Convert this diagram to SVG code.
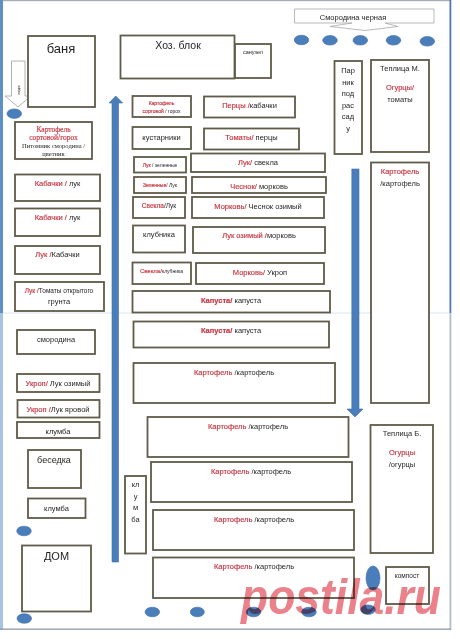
<svg xmlns="http://www.w3.org/2000/svg" width="460" height="639" viewBox="0 0 460 639">
<style>
.b{fill:#fff;stroke:#5f5b49;stroke-width:1.8}
.e{fill:#4a7ebb;stroke:#3f6ea6;stroke-width:.6}
.a{fill:#4a7ebb;stroke:#3f6ea6;stroke-width:.6}
text{font-family:"Liberation Sans",Arial,sans-serif;font-size:7.5px;fill:#1f1f1f;text-anchor:middle}
.r{fill:#c8343f;stroke:#c8343f;stroke-width:.15}
.s{font-family:"Liberation Serif","Times New Roman",serif}
.w{font-size:50px;font-weight:bold;font-style:italic;fill:#e2525e;fill-opacity:.72;mix-blend-mode:multiply}
</style>
<defs><filter id="soft" x="-2%" y="-2%" width="104%" height="104%"><feGaussianBlur stdDeviation="0.3"/></filter></defs>
<rect width="460" height="639" fill="#fff"/>
<g filter="url(#soft)">
<g id="page">
<rect x="2" y="0" width="449" height="1.2" fill="#a8adb2"/>
<rect x="0" y="0" width="3" height="313" fill="#5f8fc6"/>
<rect x="0" y="313" width="3" height="317" fill="#a9c4e2"/>
<rect x="449.500" y="0" width="1.800" height="313" fill="#4f78b5"/>
<rect x="449.500" y="313" width="1.800" height="317" fill="#b4bec8"/>
<rect x="0" y="628.500" width="451" height="1.300" fill="#8f9ba8"/>
<rect x="3" y="312.500" width="446" height="1" fill="#dce6ee"/>
</g>
<g id="connectors">
<path class="a" d="M112 562V103H109L115.700 96L122.700 103H118.500V562Z"/>
<path class="a" d="M351.800 169H359V409H363L355 417L347 409H351.800Z"/>
<path d="M11.500 61H25V96H31L18 107L5 96H11.500Z" fill="#fff" stroke="#a0a0a0" stroke-width=".8"/>
<text transform="translate(19.500 90) rotate(-90)" style="font-size:4px">вода</text>
</g>
<g id="banya"><rect class="b" x="28" y="36" width="67" height="71"/><text x="61" y="53" style="font-size:13px">баня</text></g>
<g id="hoz"><rect class="b" x="120.500" y="35.500" width="114" height="43"/><text x="178" y="49" style="font-size:10.500px">Хоз. блок</text></g>
<g id="sanuzel"><rect class="b" x="235" y="44" width="36" height="34"/><text x="253" y="54" style="font-size:5.500px">санузел</text></g>
<g id="smorodina-ch"><path d="M294.500 9H434V23H385L398 26.500L365 30.500L330 26.500L352 23H294.500Z" fill="#fff" stroke="#a8a8a8" stroke-width=".8"/><text x="353" y="19.500">Смородина черная</text></g>
<g id="parnik"><rect class="b" x="334.500" y="61" width="27.500" height="93"/><text x="348" y="73">Пар</text><text x="348" y="85">ник</text><text x="348" y="96">под</text><text x="348" y="108">рас</text><text x="348" y="119">сад</text><text x="348" y="131">у</text></g>
<g id="teplica-m"><rect class="b" x="371" y="60" width="58" height="92"/><text x="400" y="71">Теплица М.</text><text x="400" y="90"><tspan class="r">Огурцы/</tspan></text><text x="400" y="102">томаты</text></g>
<g id="kart-tall"><rect class="b" x="371" y="162.500" width="58" height="240.500"/><text x="400" y="174"><tspan class="r">Картофель</tspan></text><text x="400" y="186">/картофель</text></g>
<g id="teplica-b"><rect class="b" x="370.500" y="425" width="62.500" height="128"/><text x="402" y="436">Теплица Б.</text><text x="402" y="455"><tspan class="r">Огурцы</tspan></text><text x="402" y="467">/огурцы</text></g>
<g id="kompost"><rect class="b" x="386" y="567" width="43" height="37"/><text x="407" y="578" style="font-size:6.500px">компост</text></g>
<g id="n1"><rect class="b" x="132.500" y="96" width="58.500" height="21"/><text x="161.500" y="105" style="font-size:5px"><tspan class="r">Картофель</tspan></text><text x="161.500" y="112.500" style="font-size:5px"><tspan class="r">сортовой</tspan> / горох</text></g>
<g id="n2"><rect class="b" x="132.500" y="127" width="58.500" height="22"/><text x="161.500" y="139.500">кустарники</text></g>
<g id="n3"><rect class="b" x="134" y="157" width="52" height="15.500"/><text x="160" y="166.500" style="font-size:5px"><tspan class="r">Лук</tspan> / зеленные</text></g>
<g id="n4"><rect class="b" x="134" y="177" width="52" height="16"/><text x="160" y="187" style="font-size:5px"><tspan class="r">Зеленные</tspan>/ Лук</text></g>
<g id="n5"><rect class="b" x="133" y="197" width="52" height="21"/><text x="159" y="207.500" style="font-size:6.500px"><tspan class="r">Свекла</tspan>/Лук</text></g>
<g id="n6"><rect class="b" x="133" y="225.500" width="52" height="27"/><text x="159" y="237">клубника</text></g>
<g id="n7"><rect class="b" x="132.500" y="262.500" width="58.500" height="21.500"/><text x="161.500" y="272.500" style="font-size:5px"><tspan class="r" style="font-size:6px">Свекла/</tspan>клубника</text></g>
<g id="n8"><rect class="b" x="204" y="96.500" width="91" height="21"/><text x="249.500" y="107.500"><tspan class="r">Перцы /</tspan>кабачки</text></g>
<g id="n9"><rect class="b" x="204" y="128.500" width="95" height="21"/><text x="251.500" y="140"><tspan class="r">Томаты/</tspan> перцы</text></g>
<g id="n10"><rect class="b" x="191" y="153.500" width="134" height="18.500"/><text x="258" y="165"><tspan class="r">Лук/</tspan> свекла</text></g>
<g id="n11"><rect class="b" x="192" y="177" width="134" height="16"/><text x="259" y="188.500"><tspan class="r">Чеснок/</tspan> морковь</text></g>
<g id="n12"><rect class="b" x="192" y="197" width="132" height="21"/><text x="258" y="208.500"><tspan class="r">Морковь/</tspan> Чеснок озимый</text></g>
<g id="n13"><rect class="b" x="193" y="227" width="132" height="26"/><text x="259" y="238"><tspan class="r">Лук озимый /</tspan>морковь</text></g>
<g id="n14"><rect class="b" x="196" y="263" width="128" height="21"/><text x="260" y="274.500"><tspan class="r">Морковь/</tspan> Укроп</text></g>
<g id="n15"><rect class="b" x="132.500" y="291" width="197.500" height="21.500"/><text x="231" y="302.500"><tspan class="r" style="font-weight:bold">Капуста/</tspan> капуста</text></g>
<g id="n16"><rect class="b" x="133.500" y="321.500" width="195.500" height="26"/><text x="231" y="333"><tspan class="r" style="font-weight:bold">Капуста/</tspan> капуста</text></g>
<g id="n17"><rect class="b" x="133.500" y="363" width="201.500" height="40"/><text x="234" y="375"><tspan class="r">Картофель</tspan> /картофель</text></g>
<g id="n18"><rect class="b" x="147.500" y="417" width="201" height="40"/><text x="248" y="429"><tspan class="r">Картофель</tspan> /картофель</text></g>
<g id="n19"><rect class="b" x="151" y="462" width="201" height="40"/><text x="251" y="474"><tspan class="r">Картофель</tspan> /картофель</text></g>
<g id="n20"><rect class="b" x="153" y="510" width="201" height="40"/><text x="254" y="522"><tspan class="r">Картофель</tspan> /картофель</text></g>
<g id="n21"><rect class="b" x="153" y="557.500" width="201" height="40.500"/><text x="254" y="569"><tspan class="r">Картофель</tspan> /картофель</text></g>
<g id="klumba-v"><rect class="b" x="125" y="476" width="21" height="77.500"/><text x="135.500" y="487">кл</text><text x="135.500" y="499">у</text><text x="135.500" y="510">м</text><text x="135.500" y="522">ба</text></g>
<g id="l1"><rect class="b" x="15" y="122" width="77" height="37"/><text class="s" x="53.500" y="132"><tspan class="r">Картофель</tspan></text><text class="s" x="53.500" y="140"><tspan class="r">сортовой/горох</tspan></text><text class="s" x="53.500" y="148" style="font-size:6.500px">Питомник смородина /</text><text class="s" x="53.500" y="155.500" style="font-size:6.500px">цветник</text></g>
<g id="l2"><rect class="b" x="15" y="174.500" width="85" height="26.500"/><text x="57.500" y="186"><tspan class="r">Кабачки /</tspan> лук</text></g>
<g id="l3"><rect class="b" x="15" y="208.500" width="85" height="27.500"/><text x="57.500" y="220"><tspan class="r">Кабачки /</tspan> лук</text></g>
<g id="l4"><rect class="b" x="15" y="246" width="85" height="28"/><text x="57.500" y="257"><tspan class="r">Лук /</tspan>Кабачки</text></g>
<g id="l5"><rect class="b" x="15" y="282" width="89" height="29"/><text x="59" y="293" style="font-size:6.500px"><tspan class="r">Лук /</tspan>Томаты открытого</text><text x="59" y="304">грунта</text></g>
<g id="l6"><rect class="b" x="17" y="330" width="78" height="24"/><text x="56" y="341.500">смородина</text></g>
<g id="l7"><rect class="b" x="17" y="374" width="82.500" height="18"/><text x="58" y="385.500"><tspan class="r">Укроп/</tspan> Лук озимый</text></g>
<g id="l8"><rect class="b" x="17.500" y="400" width="82" height="17.500"/><text x="58" y="411.500"><tspan class="r">Укроп /</tspan>Лук яровой</text></g>
<g id="l9"><rect class="b" x="17" y="422" width="82.500" height="16"/><text x="58" y="433.500">клумба</text></g>
<g id="besedka"><rect class="b" x="28" y="450" width="53" height="38"/><text x="54" y="463" style="font-size:9px">беседка</text></g>
<g id="klumba2"><rect class="b" x="28" y="498.500" width="57.500" height="19.500"/><text x="56.500" y="511">клумба</text></g>
<g id="dom"><rect class="b" x="22" y="545.500" width="69" height="66"/><text x="56.500" y="560" style="font-size:11px">ДОМ</text></g>
<g id="dots">
<ellipse class="e" cx="301.500" cy="40" rx="7.300" ry="4.800"/><ellipse class="e" cx="330" cy="40.300" rx="7.300" ry="4.800"/><ellipse class="e" cx="360.300" cy="40.300" rx="7.300" ry="4.800"/><ellipse class="e" cx="393.500" cy="40.300" rx="7.300" ry="4.800"/><ellipse class="e" cx="427.300" cy="41.300" rx="7.300" ry="4.800"/>
<ellipse class="e" cx="14.300" cy="113.700" rx="7.300" ry="4.800"/><ellipse class="e" cx="24" cy="531" rx="7.300" ry="4.800"/><ellipse class="e" cx="24.300" cy="618.500" rx="7.300" ry="4.800"/><ellipse class="e" cx="152.300" cy="612" rx="7.300" ry="4.800"/><ellipse class="e" cx="197.300" cy="612" rx="7" ry="4.800"/><ellipse class="e" cx="253.500" cy="612" rx="7.300" ry="4.800"/><ellipse class="e" cx="309" cy="612" rx="7.300" ry="4.800"/><ellipse class="e" cx="368" cy="609.700" rx="7.300" ry="4.800"/><ellipse class="e" cx="373" cy="578" rx="7" ry="12"/>
</g>
<text class="w" x="341" y="614" textLength="200" lengthAdjust="spacingAndGlyphs">postila.ru</text>
</g>
</svg>
